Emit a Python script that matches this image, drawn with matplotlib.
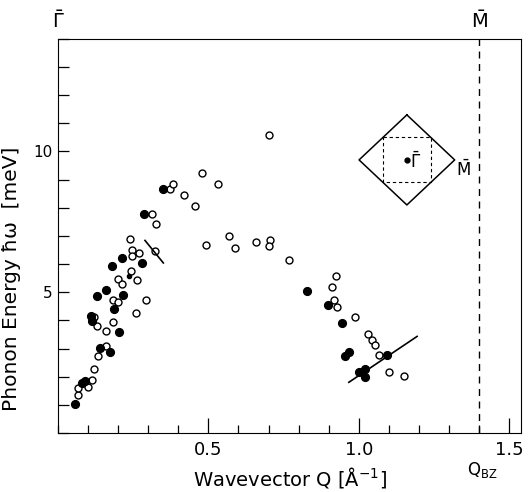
import numpy as np
import matplotlib
matplotlib.use("Agg")
import matplotlib.pyplot as plt
from matplotlib.ticker import MultipleLocator, FixedLocator

# measured phonon energies, filled symbols
q_filled = [0.056, 0.080, 0.090, 0.108, 0.114, 0.128, 0.139, 0.158, 0.173, 0.179,
            0.187, 0.202, 0.213, 0.217, 0.280, 0.286, 0.350,
            0.827, 0.897, 0.944, 0.953, 0.966, 1.002, 1.021, 1.022, 1.094]
e_filled = [1.03, 1.78, 1.85, 4.14, 3.96, 4.85, 3.01, 5.09, 2.87, 5.92,
            4.41, 3.57, 6.22, 4.89, 6.04, 7.78, 8.68,
            5.06, 4.53, 3.90, 2.72, 2.86, 2.15, 2.27, 2.00, 2.78]

# open symbols
q_open = [0.065, 0.065, 0.099, 0.112, 0.121, 0.134, 0.159, 0.121, 0.130, 0.158,
          0.181, 0.184, 0.200, 0.198, 0.211, 0.242, 0.261, 0.259, 0.239, 0.245,
          0.247, 0.268, 0.294, 0.311, 0.324, 0.322, 0.372, 0.381, 0.420, 0.457,
          0.479, 0.532, 0.569, 0.493, 0.590, 0.657, 0.706, 0.701, 0.701, 0.768,
          0.925, 0.910, 0.919, 0.928, 0.986, 1.030, 1.043, 1.054, 1.066, 1.102, 1.152]
e_open = [1.35, 1.59, 1.65, 1.89, 2.27, 2.74, 3.10, 4.12, 3.81, 3.63,
          3.94, 4.71, 4.64, 5.47, 5.30, 5.77, 5.44, 4.26, 6.89, 6.49,
          6.27, 6.38, 4.73, 7.78, 7.44, 6.48, 8.65, 8.83, 8.45, 8.08,
          9.23, 8.85, 6.98, 6.67, 6.57, 6.80, 6.87, 6.65, 10.57, 6.13,
          5.56, 5.18, 4.73, 4.49, 4.12, 3.51, 3.31, 3.13, 2.78, 2.16, 2.03]

# small filled dot
q_small = [0.236]
e_small = [5.56]

# slope segments (q0, q1), (e0, e1)
slope_segments = [((0.289, 0.350), (6.84, 6.04)),
                  ((0.967, 1.194), (1.80, 3.43))]

q_bz = 1.40

fig = plt.figure(figsize=(5.28, 4.92), dpi=100)
ax = fig.add_axes([0.110, 0.120, 0.877, 0.801])

ax.plot(q_open, e_open, 'o', ms=5.0, mfc='white', mec='black', mew=1.0, zorder=3)
ax.plot(q_filled, e_filled, 'o', ms=5.6, mfc='black', mec='black', zorder=4)
ax.plot(q_small, e_small, 'o', ms=3, mfc='black', mec='black', zorder=4)
for qs, es in slope_segments:
    ax.plot(qs, es, '-', color='black', lw=1.2, zorder=5)

ax.axvline(q_bz, color='black', lw=1.0, ls=(0, (5, 4)), zorder=2)

ax.set_xlim(0, 1.54)
ax.set_ylim(0, 14)

ax.xaxis.set_major_locator(FixedLocator([0.5, 1.0, 1.5]))
ax.xaxis.set_minor_locator(MultipleLocator(0.1))
ax.set_xticklabels(['0.5', '1.0', '1.5'])
ax.yaxis.set_major_locator(FixedLocator([5, 10]))
ax.yaxis.set_minor_locator(MultipleLocator(1))
ax.set_yticklabels(['5', '10'])

ax.tick_params(which='both', direction='in', top=False, right=False)
ax.tick_params(axis='x', which='major', length=11, width=0.9, labelsize=13, pad=6)
ax.tick_params(axis='x', which='minor', length=6, width=0.9)
ax.tick_params(axis='y', which='major', length=8, width=0.9, labelsize=11, pad=4)
ax.tick_params(axis='y', which='minor', length=8, width=0.9)
for sp in ax.spines.values():
    sp.set_linewidth(0.8)

ax.set_xlabel(r"Wavevector Q [Å$^{-1}$]", fontsize=14, labelpad=4)
ax.set_ylabel("Phonon Energy ħω  [meV]", fontsize=14.5)
ax.yaxis.set_label_coords(-0.080, 0.39)

# symmetry point labels
ax.text(0.0, 14.25, r"$\bar{\Gamma}$", fontsize=14, ha='center', va='bottom')
ax.text(q_bz, 14.25, r"$\bar{\mathrm{M}}$", fontsize=14, ha='center', va='bottom')
ax.text(q_bz + 0.01, -0.95, r"Q$_{\mathrm{BZ}}$", fontsize=12, ha='center', va='top')

# surface Brillouin zone inset
cx, cy, hw, hh = 1.160, 9.70, 0.159, 1.60
ax.plot([cx, cx + hw, cx, cx - hw, cx], [cy + hh, cy, cy - hh, cy, cy + hh],
        color='black', lw=1.1)
ax.plot([cx - hw / 2, cx + hw / 2, cx + hw / 2, cx - hw / 2, cx - hw / 2],
        [cy + hh / 2, cy + hh / 2, cy - hh / 2, cy - hh / 2, cy + hh / 2],
        color='black', lw=0.8, ls=(0, (3, 2.5)))
ax.plot([cx], [cy], 'o', ms=3.5, color='black')
ax.text(cx + 0.010, cy - 0.05, r"$\bar{\Gamma}$", fontsize=12, ha='left', va='center')
ax.text(cx + hw + 0.005, cy - 0.35, r"$\bar{\mathrm{M}}$", fontsize=12, ha='left', va='center')

fig.savefig("out.png", dpi=100)
